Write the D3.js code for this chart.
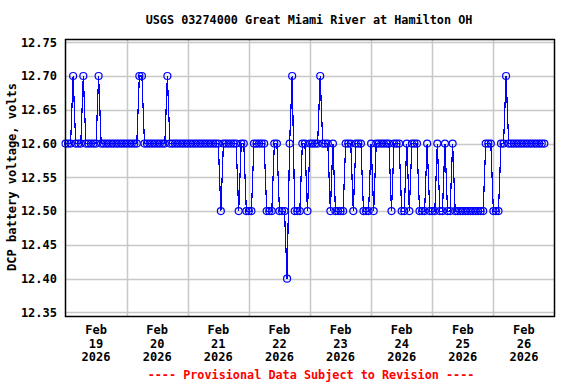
<!DOCTYPE html>
<html>
<head>
<meta charset="utf-8">
<script src="https://cdn.jsdelivr.net/npm/d3@7"></script>
<style>
  body { margin: 0; background: #fff; }
  svg { display: block; }
  text { font-family: "DejaVu Sans Mono", "Liberation Mono", monospace; font-weight: bold; }
</style>
</head>
<body>
<svg></svg>
<script>
// hourly DCP battery voltage, one array per day (starting 00:00)
const feb19 = [12.6,12.6,12.6,12.7,12.6,12.6,12.6,12.7,12.6,12.6,12.6,12.6,12.6,12.7,12.6,12.6,12.6,12.6,12.6,12.6,12.6,12.6,12.6,12.6];
const feb20 = [12.6,12.6,12.6,12.6,12.6,12.7,12.7,12.6,12.6,12.6,12.6,12.6,12.6,12.6,12.6,12.6,12.7,12.6,12.6,12.6,12.6,12.6,12.6,12.6];
const feb21 = [12.6,12.6,12.6,12.6,12.6,12.6,12.6,12.6,12.6,12.6,12.6,12.6,12.6,12.5,12.6,12.6,12.6,12.6,12.6,12.6,12.5,12.6,12.6,12.5];
const feb22 = [12.5,12.5,12.6,12.6,12.6,12.6,12.6,12.5,12.5,12.5,12.6,12.6,12.5,12.5,12.5,12.4,12.6,12.7,12.5,12.5,12.5,12.6,12.6,12.5];
const feb23 = [12.6,12.6,12.6,12.6,12.7,12.6,12.6,12.6,12.5,12.6,12.5,12.5,12.5,12.5,12.6,12.6,12.6,12.5,12.6,12.6,12.6,12.5,12.5,12.5];
const feb24 = [12.6,12.5,12.6,12.6,12.6,12.6,12.6,12.6,12.5,12.6,12.6,12.6,12.5,12.5,12.6,12.5,12.6,12.6,12.6,12.5,12.5,12.5,12.6,12.5];
const feb25 = [12.5,12.5,12.6,12.5,12.5,12.6,12.5,12.5,12.6,12.5,12.5,12.5,12.5,12.5,12.5,12.5,12.5,12.5,12.5,12.5,12.5,12.6,12.6,12.6];
const feb26 = [12.5,12.5,12.5,12.6,12.6,12.7,12.6,12.6,12.6,12.6,12.6,12.6,12.6,12.6,12.6,12.6,12.6,12.6,12.6,12.6,12.6];

const days = [19, 20, 21, 22, 23, 24, 25, 26];
const yTicks = [12.35, 12.40, 12.45, 12.50, 12.55, 12.60, 12.65, 12.70, 12.75];

const title = "USGS 03274000 Great Miami River at Hamilton OH";
const yTitle = "DCP battery voltage, volts";
const footer = "---- Provisional Data Subject to Revision ----";

const width = 576;
const height = 384;
const margin = { top: 39.5, right: 21.5, bottom: 67.5, left: 65.5 };

const data = [];
[feb19, feb20, feb21, feb22, feb23, feb24, feb25, feb26].forEach((vals, i) => {
  vals.forEach((v, h) => {
    data.push({ t: new Date(Date.UTC(2026, 1, days[i], h)), v: v });
  });
});

const svg = d3.select("svg")
  .attr("width", width)
  .attr("height", height);

const x = d3.scaleUtc()
  .domain([new Date(Date.UTC(2026, 1, 19)), new Date(Date.UTC(2026, 1, 27))])
  .range([margin.left, width - margin.right]);

const y = d3.scaleLinear()
  .domain([12.344, 12.754])
  .range([height - margin.bottom, margin.top]);

// grid
svg.append("g")
  .selectAll("line.h")
  .data(yTicks)
  .join("line")
  .attr("x1", margin.left)
  .attr("x2", width - margin.right)
  .attr("y1", d => Math.round(y(d)) + 0.5)
  .attr("y2", d => Math.round(y(d)) + 0.5)
  .attr("stroke", "#c8c8c8")
  .attr("stroke-width", 1.5);

svg.append("g")
  .selectAll("line.v")
  .data(days.slice(1))
  .join("line")
  .attr("x1", d => Math.round(x(new Date(Date.UTC(2026, 1, d)))) + 0.5)
  .attr("x2", d => Math.round(x(new Date(Date.UTC(2026, 1, d)))) + 0.5)
  .attr("y1", margin.top)
  .attr("y2", height - margin.bottom)
  .attr("stroke", "#c8c8c8")
  .attr("stroke-width", 1.5);

// data
const line = d3.line()
  .x(d => x(d.t))
  .y(d => y(d.v));

svg.append("path")
  .datum(data)
  .attr("d", line)
  .attr("fill", "none")
  .attr("stroke", "#0000ff")
  .attr("stroke-width", 1.2)
  .style("shape-rendering", "crispEdges");

svg.append("g")
  .selectAll("circle")
  .data(data)
  .join("circle")
  .attr("cx", d => x(d.t))
  .attr("cy", d => y(d.v))
  .attr("r", 3.5)
  .attr("fill", "none")
  .attr("stroke", "#0000ff")
  .attr("stroke-width", 1.2);

// frame
svg.append("rect")
  .attr("x", margin.left)
  .attr("y", margin.top)
  .attr("width", width - margin.left - margin.right)
  .attr("height", height - margin.top - margin.bottom)
  .attr("fill", "none")
  .attr("stroke", "#000")
  .attr("stroke-width", 1.5);

// y labels
svg.append("g")
  .selectAll("text")
  .data(yTicks)
  .join("text")
  .attr("x", 57)
  .attr("y", d => y(d))
  .attr("dy", "0.36em")
  .attr("text-anchor", "end")
  .style("font-size", "12px")
  .text(d3.format(".2f"));

svg.append("text")
  .attr("transform", "translate(16,177) rotate(-90)")
  .attr("text-anchor", "middle")
  .style("font-size", "12px")
  .text(yTitle);

// x labels, centred on noon of each day
const xl = svg.append("g")
  .selectAll("text")
  .data(days)
  .join("text")
  .attr("text-anchor", "middle")
  .style("font-size", "12px");

xl.append("tspan")
  .attr("x", d => x(new Date(Date.UTC(2026, 1, d, 12))))
  .attr("y", 334)
  .text("Feb");
xl.append("tspan")
  .attr("x", d => x(new Date(Date.UTC(2026, 1, d, 12))))
  .attr("y", 348)
  .text(d => d);
xl.append("tspan")
  .attr("x", d => x(new Date(Date.UTC(2026, 1, d, 12))))
  .attr("y", 361)
  .text("2026");

svg.append("text")
  .attr("x", 309)
  .attr("y", 24)
  .attr("text-anchor", "middle")
  .style("font-size", "11.8px")
  .text(title);

svg.append("text")
  .attr("x", 311)
  .attr("y", 379)
  .attr("text-anchor", "middle")
  .attr("fill", "#ff0000")
  .style("font-size", "11.8px")
  .text(footer);
</script>
</body>
</html>
